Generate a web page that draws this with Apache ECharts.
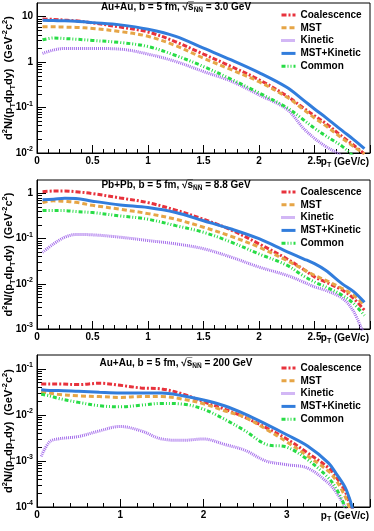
<!DOCTYPE html>
<html>
<head>
<meta charset="utf-8">
<script src="https://cdn.jsdelivr.net/npm/echarts@6/dist/echarts.min.js"></script>
<style>
html, body { margin: 0; padding: 0; background: #fff; }
#main { width: 374px; height: 531px; }
</style>
</head>
<body>
<div id="main"></div>
<script>
// Au+Au 3.0 GeV
var pt30 = [0.05, 0.15, 0.25, 0.35, 0.5, 0.75, 1.0, 1.25, 1.5, 1.75, 2.0, 2.25, 2.4, 2.5, 2.6, 2.75, 2.85, 2.95]
var coal30 = [8.9, 8.7, 8.4, 8.1, 7.3, 5.9, 4.6, 2.8, 1.5, 0.80, 0.41, 0.18, 0.098, 0.066, 0.045, 0.023, 0.015, 0.0095]
var mst30 = [6.0, 6.0, 5.9, 5.8, 5.5, 4.7, 3.7, 2.3, 1.22, 0.68, 0.37, 0.17, 0.091, 0.059, 0.040, 0.021, 0.014, 0.0095]
var kin30 = [1.55, 1.85, 2.0, 2.0, 2.0, 1.93, 1.5, 1.03, 0.62, 0.38, 0.19, 0.092, 0.035, 0.021, 0.014, 0.0085, 0.005, 0.003]
var mstKin30 = [8.3, 8.2, 8.1, 7.9, 7.4, 6.6, 5.3, 3.7, 2.03, 1.12, 0.59, 0.28, 0.146, 0.093, 0.061, 0.031, 0.020, 0.0125]
var common30 = [3.1, 3.4, 3.3, 3.2, 3.0, 2.7, 2.2, 1.4, 0.80, 0.42, 0.21, 0.10, 0.054, 0.035, 0.024, 0.014, 0.0085, 0.005]

// Pb+Pb 8.8 GeV
var pt88 = [0.05, 0.15, 0.25, 0.35, 0.5, 0.75, 1.0, 1.25, 1.5, 1.75, 2.0, 2.25, 2.4, 2.5, 2.6, 2.75, 2.85, 2.95]
var coal88 = [1.1, 1.14, 1.14, 1.1, 1.0, 0.80, 0.63, 0.43, 0.27, 0.156, 0.077, 0.036, 0.021, 0.0143, 0.011, 0.0073, 0.0048, 0.0026]
var mst88 = [0.63, 0.69, 0.67, 0.64, 0.55, 0.45, 0.36, 0.27, 0.18, 0.113, 0.065, 0.033, 0.021, 0.0155, 0.012, 0.0079, 0.0056, 0.0034]
var kin88 = [0.050, 0.077, 0.108, 0.124, 0.122, 0.108, 0.091, 0.077, 0.060, 0.039, 0.0236, 0.0155, 0.011, 0.0086, 0.0072, 0.0048, 0.0025, 0.0007]
var mstKin88 = [0.73, 0.75, 0.79, 0.78, 0.68, 0.56, 0.49, 0.38, 0.25, 0.164, 0.10, 0.052, 0.036, 0.028, 0.020, 0.010, 0.0068, 0.0039]
var common88 = [0.42, 0.42, 0.42, 0.40, 0.38, 0.32, 0.27, 0.195, 0.139, 0.084, 0.046, 0.026, 0.015, 0.011, 0.0086, 0.0056, 0.0037, 0.0020]

// Au+Au 200 GeV
var pt200 = [0.05, 0.15, 0.25, 0.5, 0.75, 1.0, 1.25, 1.5, 1.75, 2.0, 2.25, 2.5, 2.75, 3.0, 3.25, 3.5, 3.6, 3.7, 3.75, 3.8, 3.85]
var coal200 = [0.047, 0.047, 0.047, 0.0455, 0.0487, 0.044, 0.0385, 0.0366, 0.0285, 0.0193, 0.0134, 0.0088, 0.0053, 0.0030, 0.0015, 0.00071, 0.00043, 0.00022, 0.00013, 0.00008, 0.00004]
var mst200 = [0.032, 0.030, 0.028, 0.026, 0.025, 0.024, 0.025, 0.025, 0.022, 0.0175, 0.0123, 0.0088, 0.0049, 0.0026, 0.00128, 0.0006, 0.00036, 0.00017, 0.0001, 0.00006, 0.00003]
var kin200 = [0.00126, 0.0026, 0.0030, 0.0034, 0.0045, 0.0056, 0.0045, 0.0030, 0.0028, 0.0030, 0.0023, 0.0017, 0.0010, 0.00083, 0.0007, 0.00033, 0.0002, 0.0001, 0.00006, 0.00004, 0.00002]
var mstKin200 = [0.035, 0.034, 0.034, 0.0325, 0.031, 0.030, 0.030, 0.030, 0.026, 0.021, 0.0158, 0.0104, 0.0063, 0.0037, 0.0021, 0.00091, 0.00051, 0.00027, 0.00016, 0.00008, 0.00004]
var common200 = [0.028, 0.026, 0.023, 0.0187, 0.0158, 0.0150, 0.0163, 0.0178, 0.0172, 0.0133, 0.0081, 0.0045, 0.0023, 0.0020, 0.00107, 0.00043, 0.00024, 0.0001, 0.00005, 0.00003, 0.00002]

var names = ['Coalescence', 'MST', 'Kinetic', 'MST+Kinetic', 'Common']
var colors = ['#e8323c', '#e6a546', '#a56eeb', '#327ddc', '#28dc46']
var dashes = [[5, 2, 2, 2], [5, 3], [1, 1], 'solid', [4, 2, 1, 2, 1, 2]]

var yTicks30 = [0.01, 0.1, 1, 10]
var yTicks88 = [0.001, 0.01, 0.1, 1]
var yTicks200 = [0.0001, 0.001, 0.01, 0.1]

var titles = ['Au+Au, b = 5 fm, ', 'Pb+Pb, b = 5 fm, ', 'Au+Au, b = 5 fm, ']
var energies = [' = 3.0 GeV', ' = 8.8 GeV', ' = 200 GeV']

var font = "'Liberation Sans', Arial, sans-serif"

var panels = [
  { pt: pt30, ys: [coal30, mst30, kin30, mstKin30, common30], ymin: 0.01, ymax: 20, ticks: yTicks30, xmax: 3, step: 0.5, top: 3, h: 150, titleTop: 1, legTop: 10 },
  { pt: pt88, ys: [coal88, mst88, kin88, mstKin88, common88], ymin: 0.001, ymax: 2, ticks: yTicks88, xmax: 3, step: 0.5, top: 180, h: 149, titleTop: 179, legTop: 187 },
  { pt: pt200, ys: [coal200, mst200, kin200, mstKin200, common200], ymin: 0.0001, ymax: 0.2, ticks: yTicks200, xmax: 4, step: 1, top: 355, h: 152, titleTop: 357, legTop: 363 }
]

function minorTicks(lo, hi) {
  var out = []
  for (var e = Math.floor(Math.log10(lo)); e <= Math.ceil(Math.log10(hi)); e++) {
    for (var k = 2; k <= 9; k++) {
      var v = k * Math.pow(10, e)
      if (v > lo && v < hi) out.push(v)
    }
  }
  return out
}

function logLabel(v) {
  var e = Math.round(Math.log10(v))
  if (e === 0) return '{b|1}'
  if (e === 1) return '{b|10}'
  return '{b|10}{s|' + e + '}'
}

var grid = [], xAxis = [], yAxis = [], series = [], legend = [], title = []

panels.forEach(function (p, i) {
  grid.push({ left: 37, right: 4, top: p.top, height: p.h, show: true, borderColor: '#000', borderWidth: 1, outerBoundsMode: 'none', containLabel: false })
  xAxis.push({
    type: 'value', gridIndex: i, min: 0, max: p.xmax, interval: p.step,
    axisLine: { lineStyle: { color: '#000', width: 1 } },
    axisTick: { inside: true, length: 8, lineStyle: { color: '#000' } },
    minorTick: { show: true, splitNumber: 5, length: 4, lineStyle: { color: '#000' } },
    splitLine: { show: false },
    axisLabel: { showMaxLabel: false, margin: 3, color: '#000', fontWeight: 'bold', fontSize: 10, fontFamily: font },
    name: '{t|p}{d|T}{t| (GeV/c)}',
    nameLocation: 'end', nameGap: 0, nameMoveOverlap: false,
    nameTextStyle: {
      align: 'right', verticalAlign: 'top', padding: [3, 1, 0, 0],
      rich: {
        t: { fontSize: 10, fontWeight: 'bold', color: '#000', fontFamily: font, lineHeight: 13 },
        d: { fontSize: 7, fontWeight: 'bold', color: '#000', fontFamily: font, verticalAlign: 'bottom' }
      }
    }
  })
  yAxis.push({
    type: 'log', logBase: 10, gridIndex: i, min: p.ymin, max: p.ymax,
    axisLine: { show: true, lineStyle: { color: '#000', width: 1 } },
    axisTick: { show: true, inside: true, length: 9, customValues: p.ticks, lineStyle: { color: '#000' } },
    splitLine: { show: false },
    axisLabel: {
      customValues: p.ticks, margin: 4, formatter: logLabel,
      rich: {
        b: { fontSize: 10, fontWeight: 'bold', color: '#000', fontFamily: font, lineHeight: 14 },
        s: { fontSize: 7, fontWeight: 'bold', color: '#000', fontFamily: font, verticalAlign: 'top' }
      }
    },
    name: '{t|d}{u|2}{t|N/(p}{d|T}{t|dp}{d|T}{t|dy)  (GeV}{u|-2}{t|c}{u|2}{t|)}',
    nameLocation: 'middle', nameRotate: 90, nameGap: 20, nameMoveOverlap: false,
    nameTextStyle: {
      rich: {
        t: { fontSize: 11, fontWeight: 'bold', color: '#000', fontFamily: font, lineHeight: 16 },
        u: { fontSize: 7.5, fontWeight: 'bold', color: '#000', fontFamily: font, verticalAlign: 'top' },
        d: { fontSize: 7.5, fontWeight: 'bold', color: '#000', fontFamily: font, verticalAlign: 'bottom' }
      }
    }
  })
  title.push({
    text: '{t|' + titles[i] + '√}{o|s\u0305}{n|N\u0305N\u0305}{t|' + energies[i] + '}',
    left: 176, top: p.titleTop, textAlign: 'center', padding: 0,
    textStyle: {
      rich: {
        t: { fontSize: 10, fontWeight: 'bold', color: '#000', fontFamily: font, lineHeight: 13 },
        o: { fontSize: 10, fontWeight: 'bold', color: '#000', fontFamily: font },
        n: { fontSize: 6.5, fontWeight: 'bold', color: '#000', fontFamily: font, verticalAlign: 'bottom' }
      }
    }
  })
  legend.push({
    data: names, orient: 'vertical', left: 280, top: p.legTop, padding: 0,
    itemWidth: 14, itemHeight: 10, itemGap: 2.8, selectedMode: false,
    itemStyle: { opacity: 0 },
    lineStyle: { width: 3 },
    textStyle: { fontSize: 10, fontWeight: 'bold', color: '#000', fontFamily: font }
  })
  names.forEach(function (n, k) {
    series.push({
      name: n, type: 'line', xAxisIndex: i, yAxisIndex: i,
      data: p.pt.map(function (x, j) { return [x, p.ys[k][j]] }),
      symbol: 'none', smooth: 0.35, clip: true,
      lineStyle: { color: colors[k], width: 3, type: dashes[k] },
      itemStyle: { color: colors[k], opacity: 0 }
    })
  })
})

// minor log ticks on overlaid axes
panels.forEach(function (p, i) {
  yAxis.push({
    type: 'log', logBase: 10, gridIndex: i, min: p.ymin, max: p.ymax, position: 'left', offset: 0,
    axisLine: { show: false }, axisLabel: { show: false }, splitLine: { show: false },
    axisTick: { show: true, inside: true, length: 5, customValues: minorTicks(p.ymin, p.ymax), lineStyle: { color: '#000' } }
  })
})

var chart = echarts.init(document.getElementById('main'))
chart.setOption({
  animation: false,
  backgroundColor: '#fff',
  title: title,
  legend: legend,
  grid: grid,
  xAxis: xAxis,
  yAxis: yAxis,
  series: series
})
</script>
</body>
</html>
